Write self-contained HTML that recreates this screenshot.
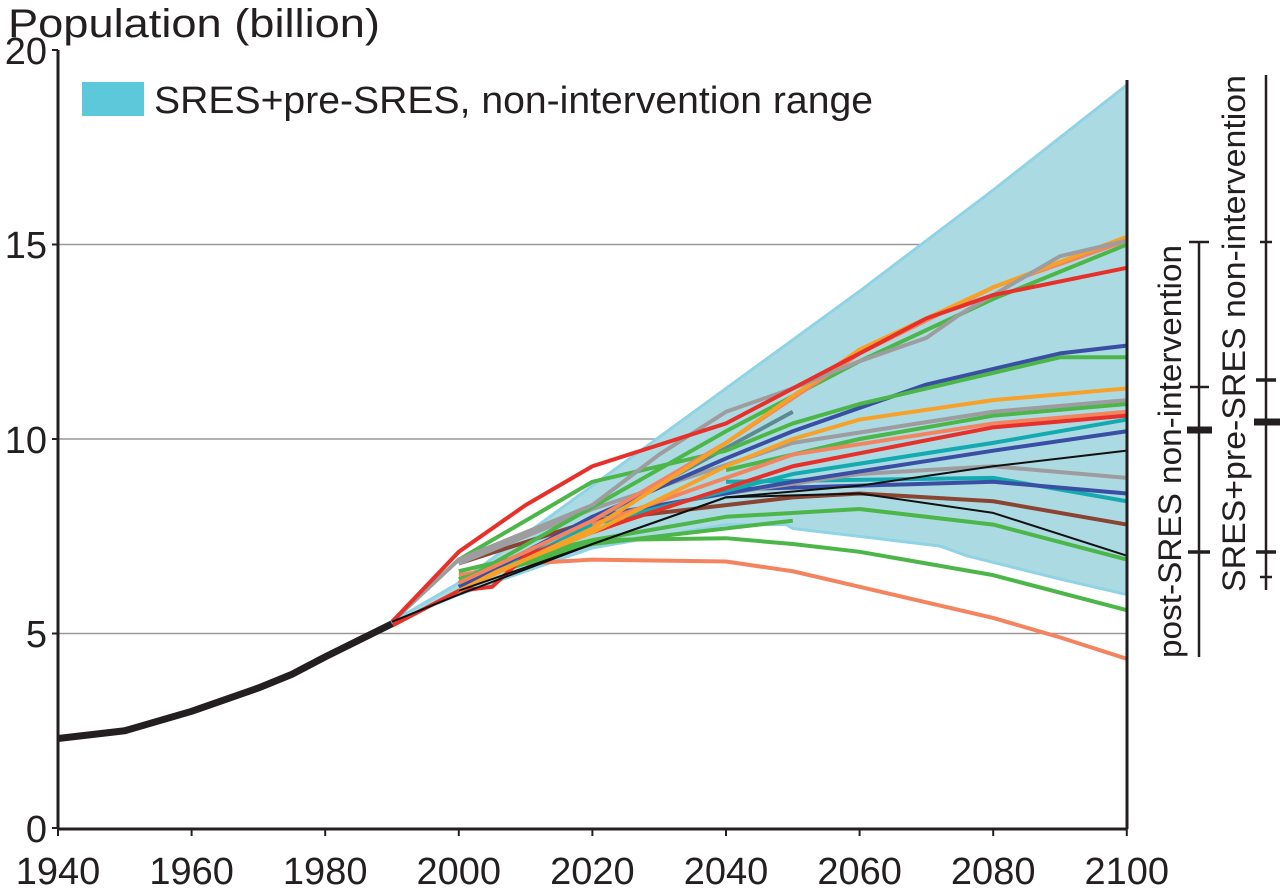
<!DOCTYPE html>
<html><head><meta charset="utf-8"><style>
body{margin:0;background:#fff;}
svg{display:block;font-family:"Liberation Sans",Arial,sans-serif;}
</style></head><body>
<svg width="1280" height="890" viewBox="0 0 1280 890" xmlns="http://www.w3.org/2000/svg">
<g stroke="#999" stroke-width="1.5">
<line x1="58" y1="244.5" x2="1127" y2="244.5"/>
<line x1="58" y1="439" x2="1127" y2="439"/>
<line x1="58" y1="633.5" x2="1127" y2="633.5"/>
</g>
<g transform="matrix(6.68,0,0,-38.9,-12901.2,828)" fill="none" stroke-linejoin="round">
<polygon points="1990,5.3 2000,6.3 2020,8.8 2040,11.3 2060,13.8 2080,16.4 2100,19.1 2100,6.0 2090,6.4 2076,7.0 2072,7.25 2050,7.7 2049,7.8 2040,7.8 2020,7.2 2000,6.0" fill="#acdae2" stroke="#8fd3e6" stroke-width="3" vector-effect="non-scaling-stroke"/>
<g stroke-width="4">
<polyline vector-effect="non-scaling-stroke" stroke="#f48460" points="2000,6.5 2010,6.8 2020,6.9 2040,6.85 2050,6.6 2060,6.2 2080,5.4 2090,4.9 2100,4.35"/>
<polyline vector-effect="non-scaling-stroke" stroke="#4cb648" points="2000,6.6 2020,7.4 2040,7.45 2050,7.3 2060,7.1 2080,6.5 2100,5.6"/>
<polyline vector-effect="non-scaling-stroke" stroke="#4cb648" points="2000,6.3 2020,7.3 2050,7.9"/>
<polyline vector-effect="non-scaling-stroke" stroke="#4cb648" points="2000,6.4 2020,7.4 2040,8.0 2060,8.2 2080,7.8 2100,6.9"/>
<polyline vector-effect="non-scaling-stroke" stroke="#8b4431" points="2000,6.8 2020,7.9 2050,8.5 2060,8.6 2080,8.4 2100,7.8"/>
<polyline vector-effect="non-scaling-stroke" stroke="#13abb0" points="2040,8.9 2080,9.0 2100,8.4"/>
<polyline vector-effect="non-scaling-stroke" stroke="#3a4fa3" points="2040,8.7 2080,8.9 2100,8.6"/>
<polyline vector-effect="non-scaling-stroke" stroke="#9d9d9f" points="2040,8.6 2060,9.1 2080,9.3 2100,9.0"/>
<polyline vector-effect="non-scaling-stroke" stroke="#3a4fa3" points="2000,6.1 2020,8.0 2050,8.9 2080,9.7 2100,10.2"/>
<polyline vector-effect="non-scaling-stroke" stroke="#13abb0" points="2000,6.1 2020,7.8 2050,9.1 2080,9.9 2100,10.5"/>
<polyline vector-effect="non-scaling-stroke" stroke="#4cb648" points="2040,9.2 2060,10.0 2080,10.6 2100,10.9"/>
<polyline vector-effect="non-scaling-stroke" stroke="#9d9d9f" points="2000,6.8 2020,8.2 2050,9.9 2080,10.7 2100,11.0"/>
<polyline vector-effect="non-scaling-stroke" stroke="#f48460" points="2020,7.8 2050,9.6 2080,10.4 2100,10.7"/>
<polyline vector-effect="non-scaling-stroke" stroke="#e8302a" points="1990,5.2 2000,6.1 2005,6.2 2010,7.0 2025,7.9 2050,9.3 2080,10.3 2100,10.6"/>
<polyline vector-effect="non-scaling-stroke" stroke="#f7a128" points="2000,6.2 2020,7.6 2040,9.3 2050,10.0 2060,10.5 2080,11.0 2100,11.3"/>
<polyline vector-effect="non-scaling-stroke" stroke="#5b8a91" points="2000,6.3 2020,7.9 2050,10.7"/>
<polyline vector-effect="non-scaling-stroke" stroke="#3a4fa3" points="2000,6.2 2020,8.0 2040,9.5 2050,10.2 2070,11.4 2090,12.2 2100,12.4"/>
<polyline vector-effect="non-scaling-stroke" stroke="#4cb648" points="1990,5.3 2000,6.9 2020,8.9 2040,9.7 2050,10.4 2060,10.9 2080,11.7 2090,12.1 2100,12.1"/>
<polyline vector-effect="non-scaling-stroke" stroke="#4cb648" points="2000,6.3 2040,10.2 2060,12.0 2080,13.6 2100,15.0"/>
<polyline vector-effect="non-scaling-stroke" stroke="#f48460" points="2000,6.3 2020,7.9 2040,9.9 2060,12.2 2080,13.9 2100,15.1"/>
<polyline vector-effect="non-scaling-stroke" stroke="#f7a128" points="2000,6.1 2020,7.7 2040,9.9 2060,12.3 2080,13.9 2100,15.2"/>
<polyline vector-effect="non-scaling-stroke" stroke="#9d9d9f" points="1990,5.3 2000,6.9 2020,8.3 2030,9.6 2040,10.7 2050,11.3 2060,12.0 2070,12.6 2075,13.2 2090,14.7 2100,15.1"/>
<polyline vector-effect="non-scaling-stroke" stroke="#e8302a" points="1990,5.3 2000,7.1 2010,8.3 2020,9.3 2040,10.4 2050,11.3 2070,13.1 2080,13.7 2100,14.4"/>
</g>
<polyline vector-effect="non-scaling-stroke" stroke="#111" stroke-width="2" points="2000,6.1 2040,8.5 2060,8.6 2080,8.1 2100,7.0"/>
<polyline vector-effect="non-scaling-stroke" stroke="#111" stroke-width="2" points="1990,5.3 2000,6.0 2020,7.3 2040,8.5 2060,8.8 2080,9.3 2100,9.7"/>
<polyline vector-effect="non-scaling-stroke" stroke="#231f20" stroke-width="7" points="1940,2.3 1950,2.5 1960,3.0 1970,3.6 1975,3.95 1980,4.4 1990,5.25"/>
</g>
<g stroke="#231f20" stroke-width="3" fill="none">
<line x1="58" y1="50" x2="58" y2="829"/>
<line x1="57" y1="829" x2="1127" y2="829"/>
<line x1="1127" y1="80" x2="1127" y2="829"/>
</g>
<g stroke="#231f20" stroke-width="2">
<line x1="52" y1="50" x2="58" y2="50"/><line x1="52" y1="244.5" x2="58" y2="244.5"/><line x1="52" y1="439" x2="58" y2="439"/><line x1="52" y1="633.5" x2="58" y2="633.5"/><line x1="52" y1="828" x2="58" y2="828"/>
<line x1="58" y1="829" x2="58" y2="836"/><line x1="191.6" y1="829" x2="191.6" y2="836"/><line x1="325.2" y1="829" x2="325.2" y2="836"/><line x1="458.8" y1="829" x2="458.8" y2="836"/><line x1="592.4" y1="829" x2="592.4" y2="836"/><line x1="726" y1="829" x2="726" y2="836"/><line x1="859.6" y1="829" x2="859.6" y2="836"/><line x1="993.2" y1="829" x2="993.2" y2="836"/><line x1="1126.8" y1="829" x2="1126.8" y2="836"/>
</g>
<g font-size="38" fill="#231f20" text-anchor="end">
<text x="47" y="64">20</text><text x="47" y="258">15</text><text x="47" y="453">10</text><text x="47" y="647">5</text><text x="47" y="842">0</text>
</g>
<g font-size="38" fill="#231f20" text-anchor="middle">
<text x="58" y="884">1940</text><text x="191.6" y="884">1960</text><text x="325.2" y="884">1980</text><text x="458.8" y="884">2000</text><text x="592.4" y="884">2020</text><text x="726" y="884">2040</text><text x="859.6" y="884">2060</text><text x="993.2" y="884">2080</text><text x="1126.8" y="884">2100</text>
</g>
<text x="8" y="37" font-size="40" fill="#231f20" textLength="372" lengthAdjust="spacingAndGlyphs">Population (billion)</text>
<rect x="82" y="82" width="62" height="34" fill="#5ec8db"/>
<text x="154" y="113" font-size="38" fill="#231f20" textLength="719" lengthAdjust="spacingAndGlyphs">SRES+pre-SRES, non-intervention range</text>
<g stroke="#231f20" stroke-width="2.5">
<line x1="1199" y1="242" x2="1199" y2="657"/>
<line x1="1189" y1="242" x2="1209" y2="242"/>
<line x1="1190" y1="387" x2="1209" y2="387"/>
<line x1="1187" y1="430" x2="1212" y2="430" stroke-width="7"/>
<line x1="1188" y1="552" x2="1210" y2="552" stroke-width="3.5"/>
<line x1="1266" y1="75" x2="1266" y2="590"/>
<line x1="1260" y1="242" x2="1272" y2="242"/>
<line x1="1256" y1="380" x2="1276" y2="380" stroke-width="3.5"/>
<line x1="1254" y1="422" x2="1280" y2="422" stroke-width="7"/>
<line x1="1256" y1="552" x2="1276" y2="552" stroke-width="3.5"/>
<line x1="1260" y1="577" x2="1272" y2="577"/>
</g>
<text transform="translate(1181,658) rotate(-90)" font-size="32" fill="#231f20" textLength="413" lengthAdjust="spacingAndGlyphs">post-SRES non-intervention</text>
<text transform="translate(1245,592) rotate(-90)" font-size="32" fill="#231f20" textLength="517" lengthAdjust="spacingAndGlyphs">SRES+pre-SRES non-intervention</text>
</svg>
</body></html>
